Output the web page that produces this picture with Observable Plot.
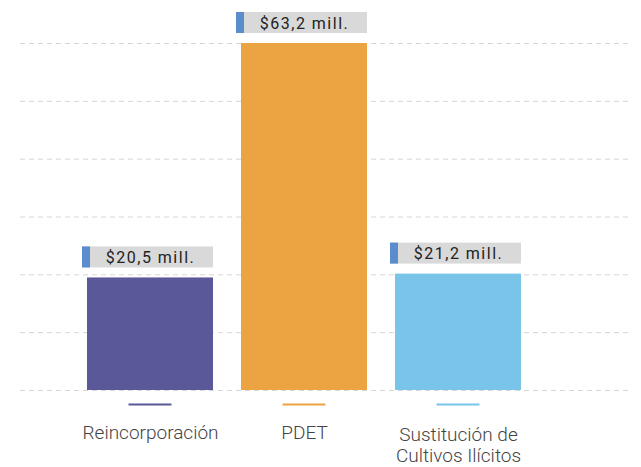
<!DOCTYPE html>
<html><head><meta charset="utf-8">
<script src="https://cdn.jsdelivr.net/npm/d3@7"></script>
<script src="https://cdn.jsdelivr.net/npm/@observablehq/plot@0.6"></script>
<style>
body{margin:0;background:#fff}
g[aria-label="text"] text{letter-spacing:1.5px}
</style>
</head><body><div id="chart"></div>
<script>
const categories = ["Reincorporación", "PDET", "Sustitución de\nCultivos Ilícitos"];
const values = [20.5, 63.2, 21.2];
const colors = ["#5b5899", "#eca342", "#79c5ea"];
const gridCount = 6;

const data = categories.map((c, i) => ({category: c, value: values[i], color: colors[i]}));
const maxV = d3.max(values);
const yTicks = d3.range(gridCount + 1).map(i => maxV * i / gridCount);
const fmt = v => "$" + v.toFixed(1).replace(".", ",") + " mill.";
const singleLine = categories.filter(c => !c.includes("\n"));
const multiLine = categories.filter(c => c.includes("\n"));
const axisStyle = {tickSize: 0, fontSize: 19, fontWeight: 300, fill: "#444", lineHeight: 1.1, label: null};

const plot = Plot.plot({
  width: 641,
  height: 467,
  marginTop: 43,
  marginBottom: 77,
  marginLeft: 20,
  marginRight: 9,
  style: {fontFamily: "Roboto, sans-serif", background: "#fff", overflow: "visible"},
  x: {domain: categories, paddingInner: 0.184, paddingOuter: 0.5726, align: 0.378, label: null},
  y: {domain: [0, maxV], axis: null},
  marks: [
    Plot.gridY(yTicks, {stroke: "#d6d6d6", strokeOpacity: 1, strokeDasharray: "5,4"}),
    Plot.barY(data, {x: "category", y: "value", fill: d => d.color}),
    Plot.barY(data, {x: "category", y1: "value", y2: "value", fill: "#d9d9d9", insetTop: -21, insetLeft: -5, dy: -10}),
    Plot.barY(data, {x: "category", y1: "value", y2: "value", fill: "#5b8dcc", insetTop: -21, insetLeft: -5, insetRight: 123, dy: -10}),
    Plot.text(data, {x: "category", y: "value", text: d => fmt(d.value), dy: -20, fontSize: 16, fontWeight: 400, fill: "#222"}),
    Plot.tickY(data, {x: "category", y: () => 0, stroke: d => d.color, strokeWidth: 2, dy: 14, insetLeft: 41.5, insetRight: 41.5}),
    Plot.axisX({...axisStyle, ticks: singleLine, tickPadding: 34}),
    Plot.axisX({...axisStyle, ticks: multiLine, tickPadding: 36})
  ]
});
document.getElementById("chart").appendChild(plot);
</script>
</body></html>
